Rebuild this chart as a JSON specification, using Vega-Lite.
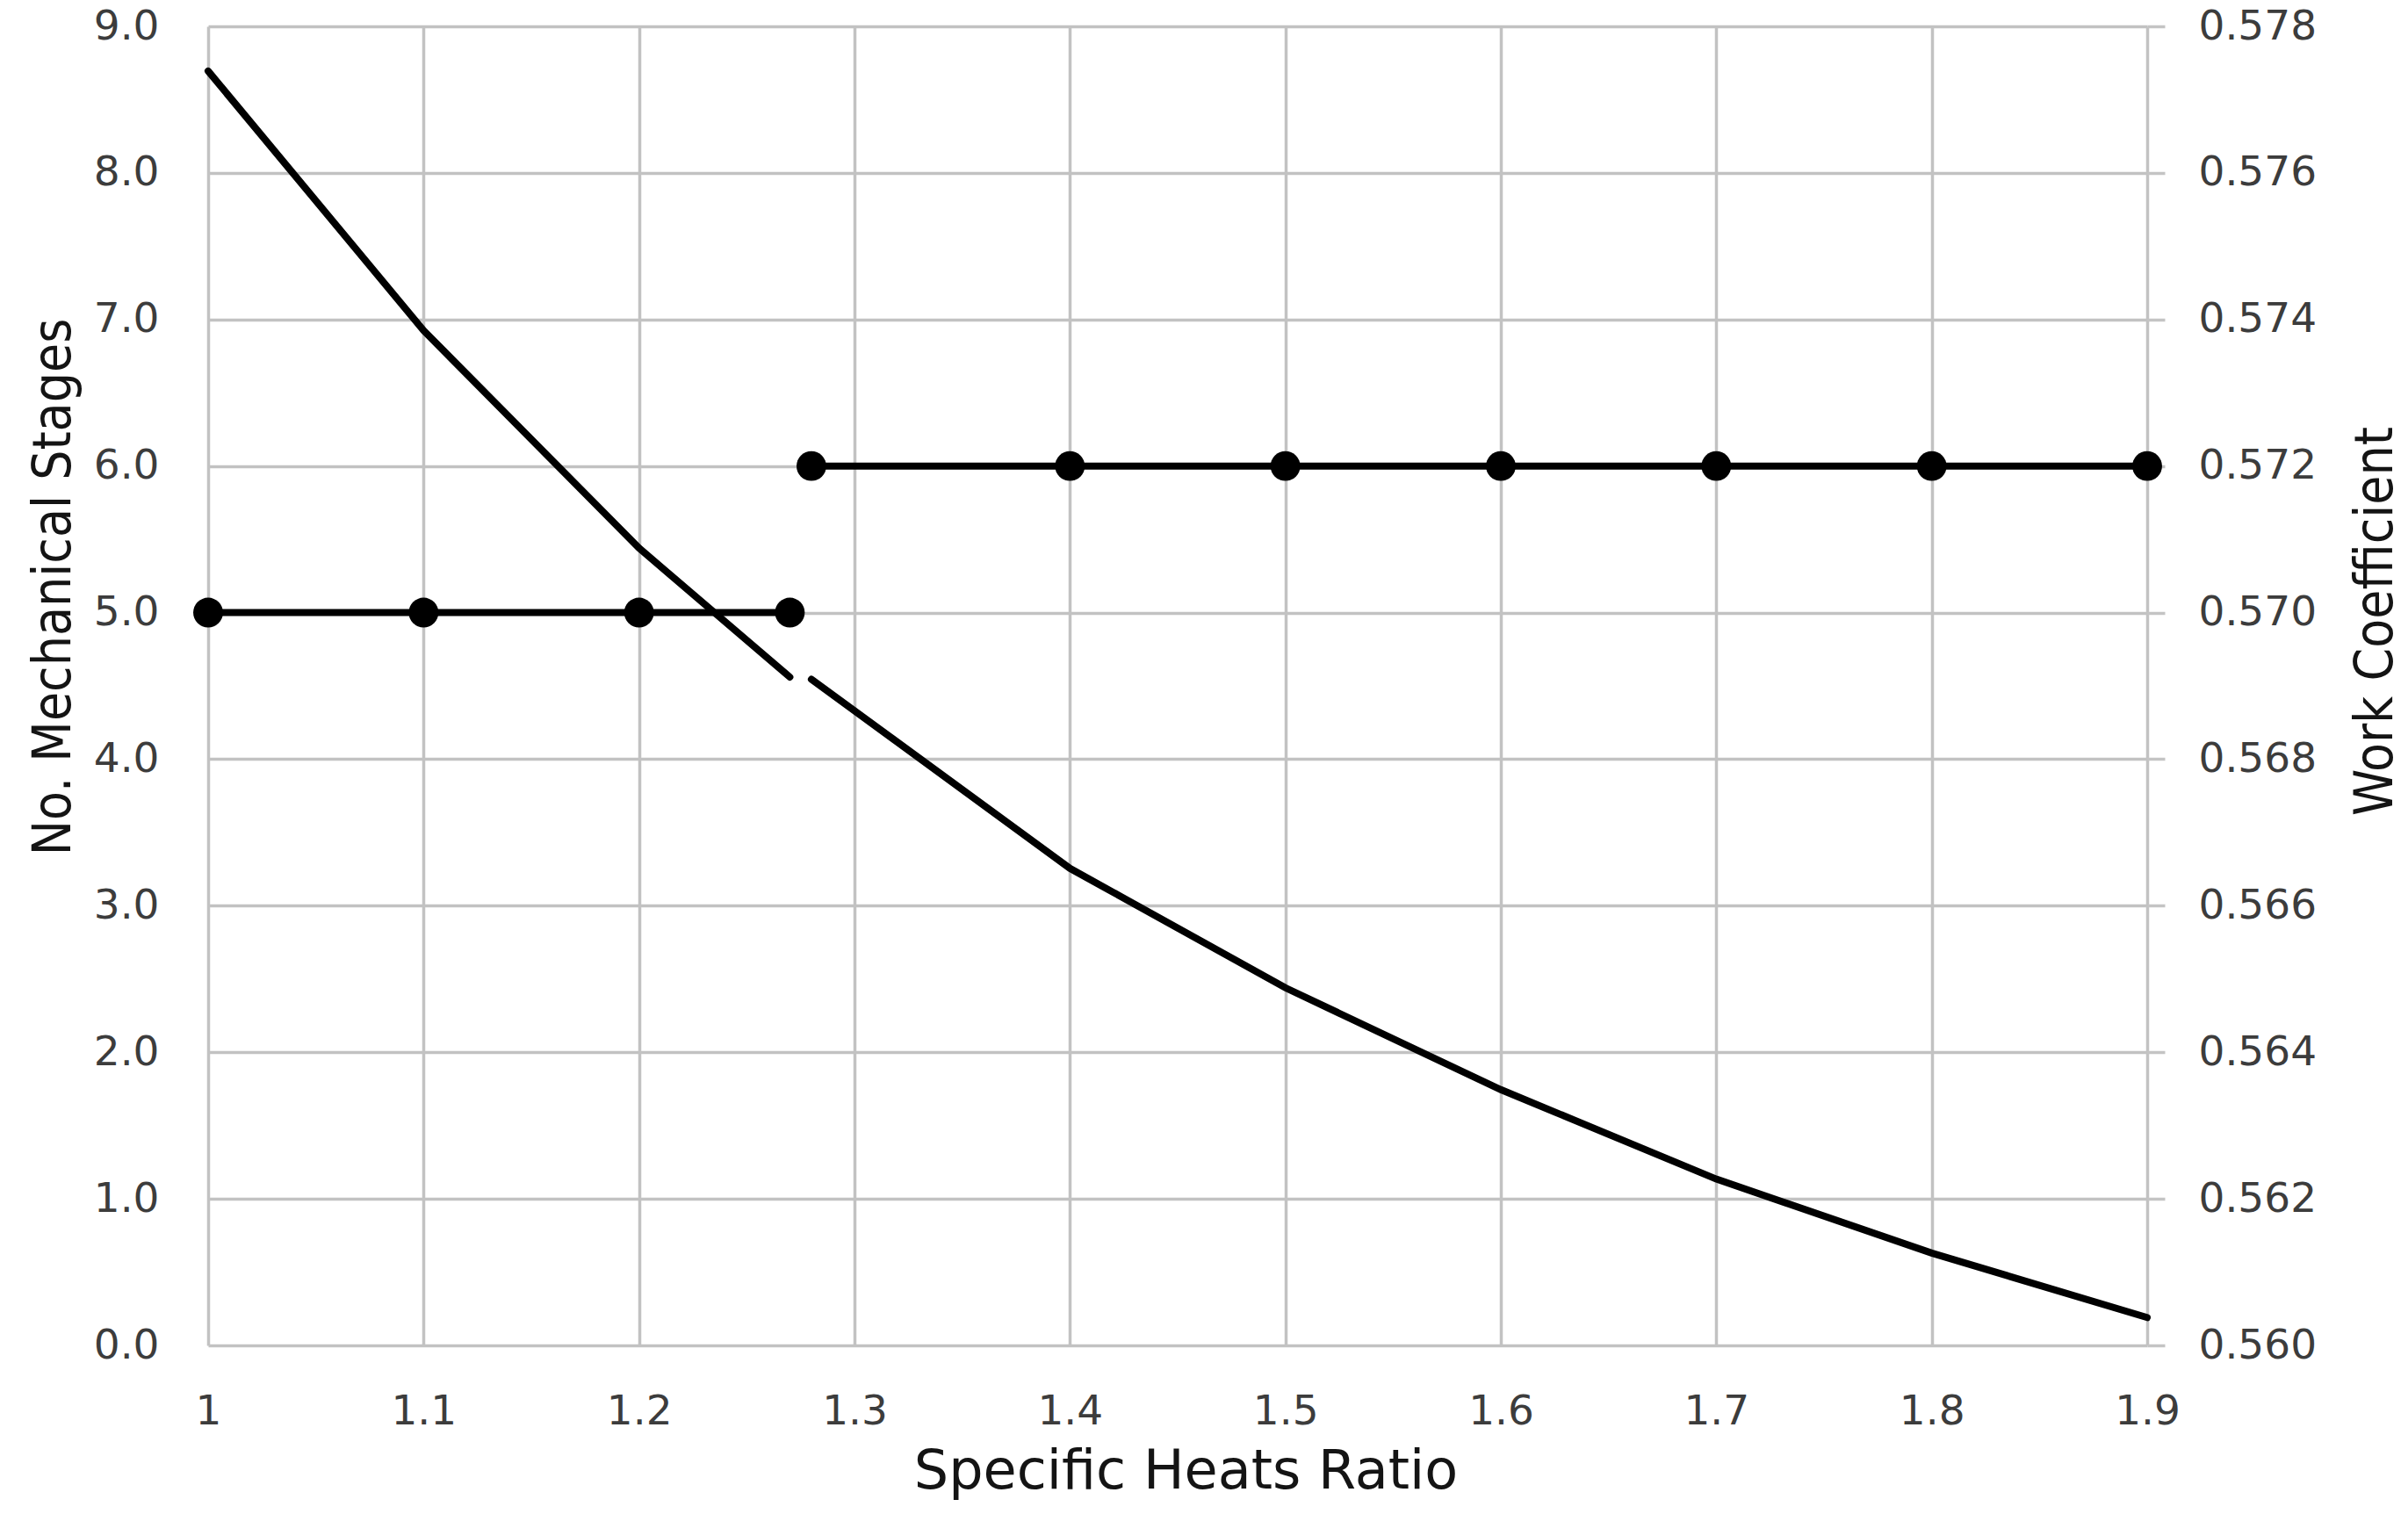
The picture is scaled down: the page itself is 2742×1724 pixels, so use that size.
{
  "$schema": "https://vega.github.io/schema/vega-lite/v6.json",
  "width": 2208,
  "height": 1502,
  "autosize": "none",
  "padding": {"left": 237, "top": 30, "right": 297, "bottom": 192},
  "background": "white",
  "datasets": {
    "stages": [
      {"gamma": 1.0, "stages": 5, "segment": "a"},
      {"gamma": 1.1, "stages": 5, "segment": "a"},
      {"gamma": 1.2, "stages": 5, "segment": "a"},
      {"gamma": 1.27, "stages": 5, "segment": "a"},
      {"gamma": 1.28, "stages": 6, "segment": "b"},
      {"gamma": 1.4, "stages": 6, "segment": "b"},
      {"gamma": 1.5, "stages": 6, "segment": "b"},
      {"gamma": 1.6, "stages": 6, "segment": "b"},
      {"gamma": 1.7, "stages": 6, "segment": "b"},
      {"gamma": 1.8, "stages": 6, "segment": "b"},
      {"gamma": 1.9, "stages": 6, "segment": "b"}
    ],
    "work": [
      {"gamma": 1.0, "psi": 0.57739, "segment": "a"},
      {"gamma": 1.1, "psi": 0.57385, "segment": "a"},
      {"gamma": 1.2, "psi": 0.57088, "segment": "a"},
      {"gamma": 1.27, "psi": 0.56912, "segment": "a"},
      {"gamma": 1.28, "psi": 0.56909, "segment": "b"},
      {"gamma": 1.4, "psi": 0.56651, "segment": "b"},
      {"gamma": 1.5, "psi": 0.56488, "segment": "b"},
      {"gamma": 1.6, "psi": 0.56349, "segment": "b"},
      {"gamma": 1.7, "psi": 0.56227, "segment": "b"},
      {"gamma": 1.8, "psi": 0.56126, "segment": "b"},
      {"gamma": 1.9, "psi": 0.56038, "segment": "b"}
    ]
  },
  "layer": [
    {
      "data": {"name": "stages"},
      "mark": {
        "type": "line",
        "color": "black",
        "strokeWidth": 8,
        "point": {"filled": true, "size": 1150, "color": "black", "opacity": 1}
      },
      "encoding": {
        "x": {
          "field": "gamma",
          "type": "quantitative",
          "scale": {"domain": [1, 1.9], "nice": false, "zero": false},
          "axis": {
            "orient": "bottom",
            "title": "Specific Heats Ratio",
            "values": [1, 1.1, 1.2, 1.3, 1.4, 1.5, 1.6, 1.7, 1.8, 1.9],
            "format": "~g",
            "grid": true,
            "domain": false,
            "ticks": false,
            "tickSize": 0,
            "labelPadding": 89,
            "labelBaseline": "alphabetic",
            "titleX": 1113,
            "titleY": 162,
            "titleBaseline": "alphabetic",
            "titleAlign": "center",
            "titleFontSize": 62,
            "titleFont": "DejaVu Sans"
          }
        },
        "y": {
          "field": "stages",
          "type": "quantitative",
          "scale": {"domain": [0, 9], "nice": false},
          "axis": {
            "orient": "left",
            "title": "No. Mechanical Stages",
            "values": [0, 1, 2, 3, 4, 5, 6, 7, 8, 9],
            "format": ".1f",
            "grid": true,
            "domain": false,
            "ticks": false,
            "tickSize": 0,
            "labelPadding": 56,
            "titleAngle": -90,
            "titleX": -158,
            "titleY": 638,
            "titleBaseline": "alphabetic",
            "titleAlign": "center"
          }
        },
        "detail": {"field": "segment"}
      }
    },
    {
      "data": {"name": "work"},
      "mark": {"type": "line", "color": "black", "strokeWidth": 8, "strokeCap": "round"},
      "encoding": {
        "x": {"field": "gamma", "type": "quantitative"},
        "y": {
          "field": "psi",
          "type": "quantitative",
          "scale": {"domain": [0.56, 0.578], "nice": false, "zero": false},
          "axis": {
            "orient": "right",
            "title": "Work Coefficient",
            "values": [0.56, 0.562, 0.564, 0.566, 0.568, 0.57, 0.572, 0.574, 0.576, 0.578],
            "format": ".3f",
            "grid": false,
            "domain": false,
            "ticks": true,
            "tickSize": 20,
            "tickColor": "#c4c4c4",
            "tickWidth": 3.5,
            "labelPadding": 38,
            "labelAlign": "left",
            "titleAngle": -90,
            "titleX": 278,
            "titleY": 677,
            "titleBaseline": "alphabetic",
            "titleAlign": "center"
          }
        },
        "detail": {"field": "segment"}
      }
    }
  ],
  "resolve": {"scale": {"y": "independent"}},
  "config": {
    "view": {"stroke": null},
    "axis": {
      "gridColor": "#c2c2c2",
      "gridWidth": 3.5,
      "gridOpacity": 1,
      "labelFont": "DejaVu Sans",
      "labelFontSize": 47,
      "labelColor": "#3c3c3c",
      "titleFont": "Liberation Sans Narrow, DejaVu Sans Condensed, sans-serif",
      "titleFontSize": 60,
      "titleFontWeight": "normal",
      "titleColor": "#141414",
      "labelOverlap": false,
      "labelFlush": false
    }
  }
}
